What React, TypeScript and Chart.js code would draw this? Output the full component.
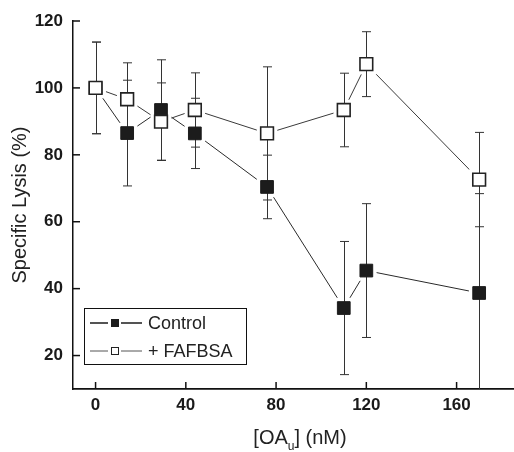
import React, { useEffect, useRef } from 'react';
import { Chart, registerables } from 'chart.js';

Chart.register(...registerables);

// ---- data ----
const concentrations = [0, 14, 29, 44, 76, 110, 120, 170];
const controlMean = [100, 86.5, 93.4, 86.4, 70.4, 34.2, 45.4, 38.7];
const controlErr = [13.7, 15.8, 15.0, 10.5, 9.5, 19.9, 20.0, 29.7];
const fafbsaMean = [100, 96.6, 89.9, 93.4, 86.4, 93.4, 107.1, 72.6];
const fafbsaErr = [13.7, 10.9, 11.6, 11.1, 19.9, 11.0, 9.7, 14.1];
const xTicks = [0, 40, 80, 120, 160];
const yTicks = [20, 40, 60, 80, 100, 120];
const seriesLabels = ['Control', '+ FAFBSA'];
const xTitleParts = ['[OA', 'u', '] (nM)'];
const yTitle = 'Specific Lysis (%)';

const FONT = '"Liberation Sans", Arial, Helvetica, sans-serif';
const INK = '#1c1c1c';

const toPts = (ys: number[]) => concentrations.map((x, i) => ({ x, y: ys[i] }));

const errorBarPlugin = {
  id: 'errorBars',
  beforeDatasetDraw(chart: any, args: any) {
    if (args.index !== 1) return;
    const { ctx, chartArea, scales } = chart;
    const xs = scales.x;
    const ys = scales.y;
    ctx.save();
    ctx.beginPath();
    ctx.rect(chartArea.left, chartArea.top, chartArea.right - chartArea.left, chartArea.bottom - chartArea.top);
    ctx.clip();
    ctx.strokeStyle = '#333';
    ctx.lineWidth = 1;
    const series = [
      [controlMean, controlErr],
      [fafbsaMean, fafbsaErr],
    ];
    series.forEach(([m, e]) => {
      concentrations.forEach((c, i) => {
        const px = Math.round(xs.getPixelForValue(c)) + 0.5;
        const top = ys.getPixelForValue(m[i] + e[i]);
        const bot = ys.getPixelForValue(m[i] - e[i]);
        ctx.beginPath();
        ctx.moveTo(px, top);
        ctx.lineTo(px, bot);
        ctx.moveTo(px - 4.5, top);
        ctx.lineTo(px + 4.5, top);
        ctx.moveTo(px - 4.5, bot);
        ctx.lineTo(px + 4.5, bot);
        ctx.stroke();
      });
    });
    ctx.restore();
  },
};

const decorPlugin = {
  id: 'decor',
  afterDraw(chart: any) {
    const { ctx, chartArea, scales } = chart;
    const xs = scales.x;
    const ys = scales.y;
    ctx.save();
    // inward ticks
    ctx.strokeStyle = '#111';
    ctx.lineWidth = 1.5;
    xTicks.forEach((v) => {
      const px = xs.getPixelForValue(v);
      ctx.beginPath();
      ctx.moveTo(px, chartArea.bottom);
      ctx.lineTo(px, chartArea.bottom - 7);
      ctx.stroke();
    });
    yTicks.forEach((v) => {
      const py = ys.getPixelForValue(v);
      ctx.beginPath();
      ctx.moveTo(chartArea.left, py);
      ctx.lineTo(chartArea.left + 7, py);
      ctx.stroke();
    });

    // legend box
    const bx = chartArea.left + 11;
    const by = 308;
    ctx.lineWidth = 1;
    ctx.strokeStyle = '#111';
    ctx.strokeRect(bx + 0.5, by + 0.5, 162, 56);
    const rows = [by + 15, by + 43];
    const mx = bx + 31;
    rows.forEach((ry, k) => {
      ctx.beginPath();
      ctx.strokeStyle = k === 0 ? '#1c1c1c' : '#555';
      ctx.lineWidth = k === 0 ? 1.5 : 1;
      ctx.moveTo(bx + 6, ry);
      ctx.lineTo(mx - 7, ry);
      ctx.moveTo(mx + 6, ry);
      ctx.lineTo(bx + 58, ry);
      ctx.stroke();
      if (k === 0) {
        ctx.fillStyle = INK;
        ctx.fillRect(mx - 4, ry - 4, 8, 8);
      } else {
        ctx.fillStyle = '#fff';
        ctx.fillRect(mx - 4, ry - 4, 8, 8);
        ctx.strokeStyle = '#222';
        ctx.lineWidth = 1;
        ctx.strokeRect(mx - 3.5, ry - 3.5, 7, 7);
      }
      ctx.fillStyle = '#222';
      ctx.font = `18px ${FONT}`;
      ctx.textBaseline = 'middle';
      ctx.textAlign = 'left';
      ctx.fillText(seriesLabels[k], bx + 64, ry + 1);
    });

    // x title with subscript
    const big = `20px ${FONT}`;
    const small = `12px ${FONT}`;
    ctx.font = big;
    const w0 = ctx.measureText(xTitleParts[0]).width;
    const w2 = ctx.measureText(xTitleParts[2]).width;
    ctx.font = small;
    const w1 = ctx.measureText(xTitleParts[1]).width;
    const total = w0 + w1 + w2;
    const cx = (chartArea.left + chartArea.right) / 2 + 7;
    let tx = cx - total / 2;
    const base = 444;
    ctx.fillStyle = '#222';
    ctx.textBaseline = 'alphabetic';
    ctx.font = big;
    ctx.fillText(xTitleParts[0], tx, base);
    tx += w0;
    ctx.font = small;
    ctx.fillText(xTitleParts[1], tx, base + 6);
    tx += w1;
    ctx.font = big;
    ctx.fillText(xTitleParts[2], tx, base);
    ctx.restore();
  },
};

export default function App() {
  const ref = useRef<HTMLCanvasElement>(null);
  useEffect(() => {
    document.body.style.margin = '0';
    const canvas = ref.current;
    if (!canvas) return;
    const markerCommon = {
      type: 'scatter' as const,
      showLine: false,
      pointStyle: 'rect' as const,
      pointRadius: 9,
      pointHoverRadius: 9,
    };
    const chart = new Chart(canvas, {
      type: 'scatter',
      data: {
        datasets: [
          {
            ...markerCommon,
            label: seriesLabels[1],
            data: toPts(fafbsaMean),
            backgroundColor: '#ffffff',
            borderColor: '#222',
            pointBorderWidth: 1.6,
            order: 0,
          },
          {
            ...markerCommon,
            label: seriesLabels[0],
            data: toPts(controlMean),
            backgroundColor: INK,
            borderColor: INK,
            pointBorderWidth: 1,
            order: 1,
          },
          {
            ...markerCommon,
            label: 'halo1',
            data: toPts(fafbsaMean),
            pointRadius: 14.5,
            backgroundColor: '#ffffff',
            borderColor: '#ffffff',
            pointBorderWidth: 0,
            order: 2,
          },
          {
            ...markerCommon,
            label: 'halo0',
            data: toPts(controlMean),
            pointRadius: 14.5,
            backgroundColor: '#ffffff',
            borderColor: '#ffffff',
            pointBorderWidth: 0,
            order: 2,
          },
          {
            type: 'scatter',
            label: 'line1',
            data: toPts(fafbsaMean),
            showLine: true,
            pointRadius: 0,
            borderColor: '#3a3a3a',
            borderWidth: 1,
            order: 3,
          },
          {
            type: 'scatter',
            label: 'line0',
            data: toPts(controlMean),
            showLine: true,
            pointRadius: 0,
            borderColor: '#2a2a2a',
            borderWidth: 1,
            order: 3,
          },
        ],
      },
      options: {
        responsive: false,
        animation: false,
        events: [],
        layout: { autoPadding: false, padding: { top: 21, right: 1, left: 0, bottom: 0 } },
        plugins: {
          legend: { display: false },
          tooltip: { enabled: false },
        },
        scales: {
          x: {
            type: 'linear',
            min: -10,
            max: 185,
            afterBuildTicks: (s: any) => {
              s.ticks = xTicks.map((v) => ({ value: v }));
            },
            afterFit: (s: any) => {
              s.height = 63;
              s.paddingLeft = 0;
              s.paddingRight = 0;
            },
            grid: { display: false, drawTicks: false },
            border: { display: true, color: '#111', width: 1.8 },
            ticks: {
              padding: 6,
              color: '#1a1a1a',
              font: { family: FONT, size: 17, weight: 'bold' },
              maxRotation: 0,
            },
          },
          y: {
            type: 'linear',
            min: 10,
            max: 120,
            afterBuildTicks: (s: any) => {
              s.ticks = yTicks.map((v) => ({ value: v }));
            },
            afterFit: (s: any) => {
              s.width = 73;
              s.paddingTop = 0;
              s.paddingBottom = 0;
            },
            grid: { display: false, drawTicks: false },
            border: { display: true, color: '#111', width: 1.5 },
            ticks: {
              padding: 10,
              color: '#1a1a1a',
              font: { family: FONT, size: 17, weight: 'bold' },
            },
            title: {
              display: true,
              text: yTitle,
              color: '#222',
              font: { family: FONT, size: 20 },
              padding: { top: 8, bottom: 0 },
            },
          },
        },
      },
      plugins: [errorBarPlugin, decorPlugin],
    } as any);
    return () => chart.destroy();
  }, []);
  return (
    <div style={{ width: 514, height: 452 }}>
      <canvas ref={ref} width={514} height={452} style={{ display: 'block' }} />
    </div>
  );
}
